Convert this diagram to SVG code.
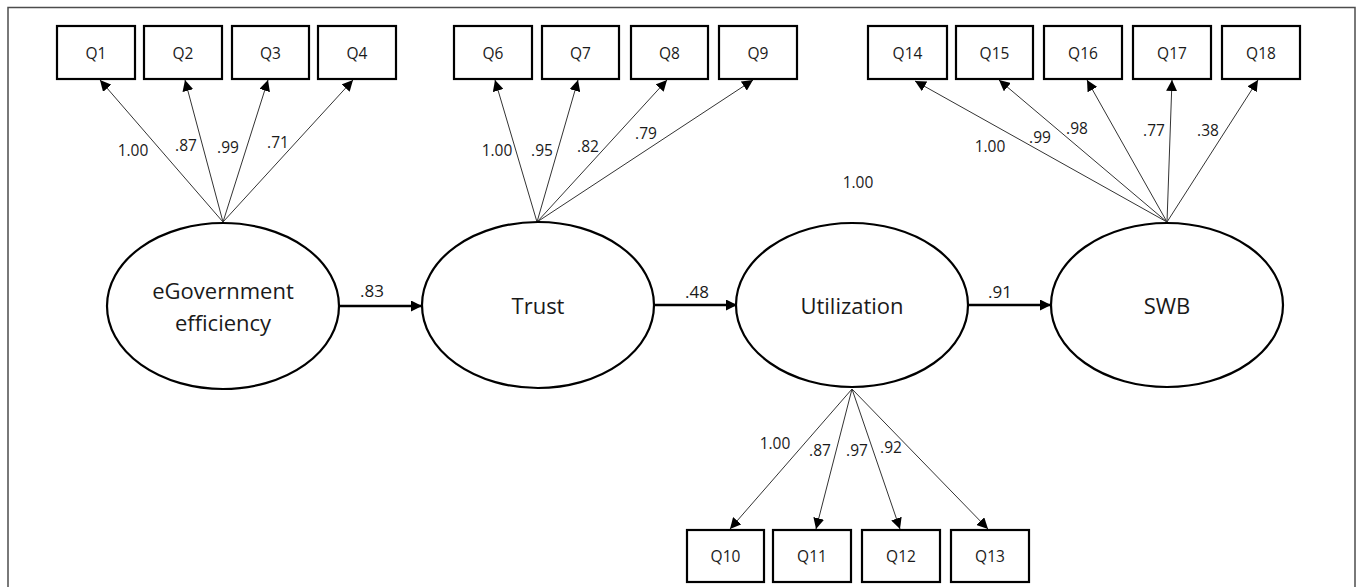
<svg xmlns="http://www.w3.org/2000/svg" width="1357" height="587" viewBox="0 0 1357 587">
  <style>
    .frame { fill: #ffffff; stroke: #4d4d4d; stroke-width: 1.5; }
    .box { fill: #ffffff; stroke: #000000; stroke-width: 2.2; }
    .latent { fill: #ffffff; stroke: #000000; stroke-width: 2.2; }
    .load { stroke: #333333; stroke-width: 1; fill: none; marker-end: url(#tipSmall); }
    .path { stroke: #000000; stroke-width: 2.5; fill: none; marker-end: url(#tipBig); }
    text { font-family: "Open Sans", "Liberation Sans", sans-serif; fill: #1a1a1a; text-anchor: middle; dominant-baseline: central; }
    .lbl { font-size: 15.5px; }
    .name { font-size: 22px; }
    .coef { font-size: 17px; }
  </style>
  <defs>
    <marker id="tipSmall" viewBox="0 0 10 10" refX="10" refY="5" markerWidth="11" markerHeight="11" markerUnits="userSpaceOnUse" orient="auto">
      <path d="M0,0 L10,5 L0,10 Z" fill="#000000"/>
    </marker>
    <marker id="tipBig" viewBox="0 0 10 10" refX="10" refY="5" markerWidth="13" markerHeight="11" markerUnits="userSpaceOnUse" orient="auto">
      <path d="M0,0 L10,5 L0,10 Z" fill="#000000"/>
    </marker>
  </defs>

  <rect class="frame" x="8" y="7.5" width="1347" height="600"/>

  <!-- connectors: indicator loadings and structural paths -->
  <g id="connectors">
    <line class="load" x1="223" y1="222" x2="100" y2="80"/>
    <line class="load" x1="223" y1="222" x2="185" y2="80"/>
    <line class="load" x1="223" y1="222" x2="268" y2="80"/>
    <line class="load" x1="223" y1="222" x2="353" y2="80"/>

    <line class="load" x1="537" y1="222" x2="495" y2="80"/>
    <line class="load" x1="537" y1="222" x2="578" y2="80"/>
    <line class="load" x1="537" y1="222" x2="667" y2="80"/>
    <line class="load" x1="537" y1="222" x2="753" y2="80"/>

    <line class="load" x1="1167" y1="222" x2="915" y2="81"/>
    <line class="load" x1="1167" y1="222" x2="999" y2="80"/>
    <line class="load" x1="1167" y1="222" x2="1087" y2="80"/>
    <line class="load" x1="1167" y1="222" x2="1172" y2="80"/>
    <line class="load" x1="1167" y1="222" x2="1258" y2="80"/>

    <line class="load" x1="852" y1="389" x2="730" y2="529"/>
    <line class="load" x1="852" y1="389" x2="816" y2="529"/>
    <line class="load" x1="852" y1="389" x2="900" y2="529"/>
    <line class="load" x1="852" y1="389" x2="988" y2="529"/>

    <line class="path" x1="339" y1="306" x2="422" y2="306"/>
    <line class="path" x1="655" y1="305" x2="737" y2="305"/>
    <line class="path" x1="968" y1="305" x2="1051" y2="305"/>

    <!-- coefficient labels -->
    <text class="lbl" x="133" y="150">1.00</text>
    <text class="lbl" x="186" y="145">.87</text>
    <text class="lbl" x="228" y="147">.99</text>
    <text class="lbl" x="278" y="142">.71</text>

    <text class="lbl" x="497" y="150">1.00</text>
    <text class="lbl" x="542" y="150">.95</text>
    <text class="lbl" x="588" y="146">.82</text>
    <text class="lbl" x="646" y="133">.79</text>

    <text class="lbl" x="990" y="146">1.00</text>
    <text class="lbl" x="1040" y="137">.99</text>
    <text class="lbl" x="1077" y="128">.98</text>
    <text class="lbl" x="1154" y="130">.77</text>
    <text class="lbl" x="1208" y="130">.38</text>

    <text class="lbl" x="858" y="182">1.00</text>

    <text class="lbl" x="775" y="443">1.00</text>
    <text class="lbl" x="820" y="450">.87</text>
    <text class="lbl" x="857" y="450">.97</text>
    <text class="lbl" x="891" y="447">.92</text>

    <text class="coef" x="372" y="290">.83</text>
    <text class="coef" x="697" y="291">.48</text>
    <text class="coef" x="1000" y="291">.91</text>
  </g>

  <!-- latent variables -->
  <g id="egov">
    <ellipse class="latent" cx="223" cy="306" rx="116" ry="83"/>
    <text class="name" x="223" y="290">eGovernment</text>
    <text class="name" x="223" y="322">efficiency</text>
  </g>
  <g id="trust">
    <ellipse class="latent" cx="538" cy="305" rx="116" ry="83"/>
    <text class="name" x="538" y="305">Trust</text>
  </g>
  <g id="utilization">
    <ellipse class="latent" cx="852" cy="305" rx="116" ry="82"/>
    <text class="name" x="852" y="305">Utilization</text>
  </g>
  <g id="swb">
    <ellipse class="latent" cx="1167" cy="305" rx="116" ry="82"/>
    <text class="name" x="1167" y="305">SWB</text>
  </g>

  <!-- observed indicators -->
  <g id="q1"><rect class="box" x="57" y="26" width="78" height="53"/><text class="lbl" x="96" y="52.5">Q1</text></g>
  <g id="q2"><rect class="box" x="144" y="26" width="78" height="53"/><text class="lbl" x="183" y="52.5">Q2</text></g>
  <g id="q3"><rect class="box" x="232" y="26" width="77" height="53"/><text class="lbl" x="270.5" y="52.5">Q3</text></g>
  <g id="q4"><rect class="box" x="318" y="26" width="78" height="53"/><text class="lbl" x="357" y="52.5">Q4</text></g>

  <g id="q6"><rect class="box" x="454" y="26" width="78" height="53"/><text class="lbl" x="493" y="52.5">Q6</text></g>
  <g id="q7"><rect class="box" x="542" y="26" width="77" height="53"/><text class="lbl" x="580.5" y="52.5">Q7</text></g>
  <g id="q8"><rect class="box" x="631" y="26" width="77" height="53"/><text class="lbl" x="669.5" y="52.5">Q8</text></g>
  <g id="q9"><rect class="box" x="719" y="26" width="78" height="53"/><text class="lbl" x="758" y="52.5">Q9</text></g>

  <g id="q14"><rect class="box" x="868" y="26" width="79" height="53"/><text class="lbl" x="907.5" y="52.5">Q14</text></g>
  <g id="q15"><rect class="box" x="956" y="26" width="77" height="53"/><text class="lbl" x="994.5" y="52.5">Q15</text></g>
  <g id="q16"><rect class="box" x="1044" y="26" width="78" height="53"/><text class="lbl" x="1083" y="52.5">Q16</text></g>
  <g id="q17"><rect class="box" x="1133" y="26" width="78" height="53"/><text class="lbl" x="1172" y="52.5">Q17</text></g>
  <g id="q18"><rect class="box" x="1222" y="26" width="78" height="53"/><text class="lbl" x="1261" y="52.5">Q18</text></g>

  <g id="q10"><rect class="box" x="687" y="530" width="77" height="52"/><text class="lbl" x="725.5" y="556">Q10</text></g>
  <g id="q11"><rect class="box" x="773" y="530" width="78" height="52"/><text class="lbl" x="812" y="556">Q11</text></g>
  <g id="q12"><rect class="box" x="862" y="530" width="78" height="52"/><text class="lbl" x="901" y="556">Q12</text></g>
  <g id="q13"><rect class="box" x="951" y="530" width="78" height="52"/><text class="lbl" x="990" y="556">Q13</text></g>
</svg>
